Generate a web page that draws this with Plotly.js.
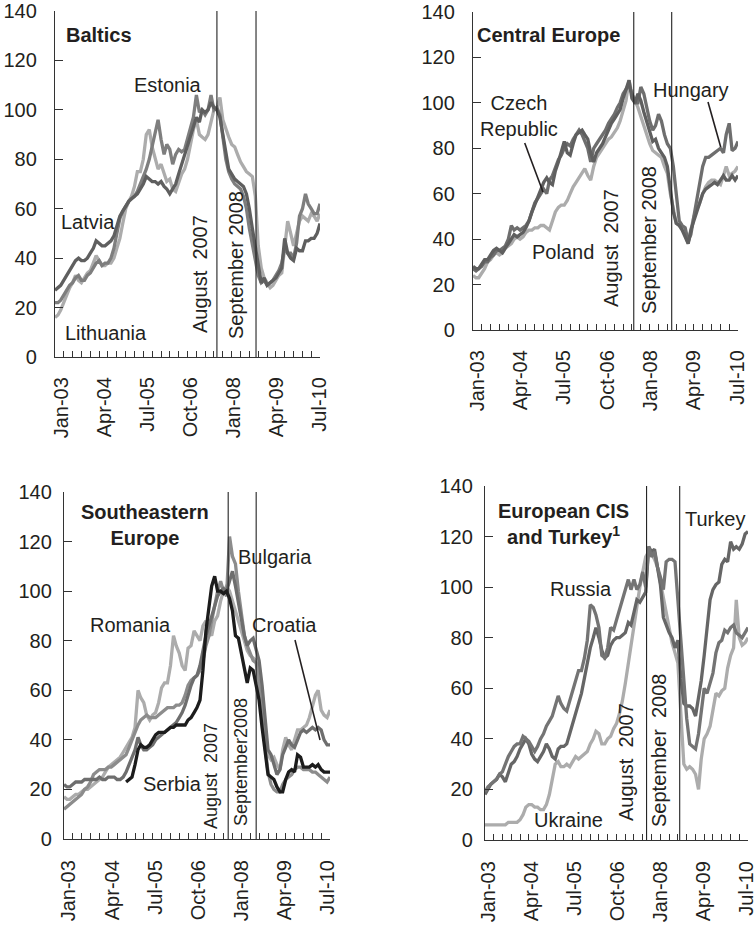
<!DOCTYPE html>
<html>
<head>
<meta charset="utf-8">
<script src="https://cdn.plot.ly/plotly-3.0.1.min.js"></script>
<style>
html,body{margin:0;padding:0;background:#fff;}
#chart{width:756px;height:925px;}
</style>
</head>
<body>
<div id="chart"></div>
<script>
// ---------- DATA (monthly, Jan-03 .. Jul-10, 91 points) ----------
var xTickLabels = ['Jan-03','Apr-04','Jul-05','Oct-06','Jan-08','Apr-09','Jul-10'];
var yTickValues = [0,20,40,60,80,100,120,140];

var baltLatvia = [27,28,29,31,33,35,37,39,40,39,
 39,40,42,44,47,46,45,45,46,47,
 49,53,57,59,61,63,64,65,66,68,
 70,73,72,71,71,70,71,69,68,66,
 68,70,74,78,82,85,89,94,97,95,
 100,99,100,103,101,100,97,90,82,76,
 74,72,71,70,69,66,60,52,44,36,
 30,32,29,30,31,32,34,36,48,42,
 40,39,44,43,43,47,47,48,48,50,54];
var baltEstonia = [22,22,23,25,27,29,30,32,33,31,
 31,33,34,36,38,39,37,38,38,40,
 44,50,56,59,61,63,64,65,67,70,
 73,76,80,85,90,96,88,82,86,84,
 78,82,84,83,84,88,92,97,106,99,
 100,98,100,106,100,101,98,89,80,75,
 72,70,69,68,65,60,52,45,38,33,
 30,31,29,30,31,33,35,38,44,42,
 42,40,46,57,60,66,62,60,58,58,62];
var baltLithuania = [16,17,19,22,25,28,30,33,31,30,
 32,34,35,38,41,39,37,37,38,38,
 40,44,48,54,60,63,65,69,75,75,
 80,90,92,85,80,76,78,74,71,72,
 68,67,70,74,76,80,86,92,96,90,
 89,88,90,95,100,101,105,96,92,89,
 86,85,82,79,77,75,74,73,65,45,
 36,32,30,28,29,31,33,34,45,55,
 50,45,50,55,57,56,55,58,57,55,58];

var ceCzech = [28,27,27,29,31,31,33,35,36,35,
 34,36,38,40,42,41,42,43,45,48,
 52,55,58,61,65,67,65,64,70,74,
 78,83,78,77,82,86,87,88,86,84,
 78,74,78,80,82,85,88,91,93,95,
 97,102,106,110,102,100,104,101,96,92,
 88,83,84,80,78,76,72,62,52,47,
 46,44,41,38,44,48,52,56,60,62,
 63,64,65,64,66,68,66,66,68,66,68];
var ceHungary = [27,26,27,28,30,30,32,33,35,35,
 36,37,40,46,44,45,44,45,46,48,
 52,56,58,60,62,60,66,68,72,75,
 77,80,82,81,84,86,88,86,83,80,
 74,80,82,84,86,88,91,93,95,98,
 100,104,106,108,104,100,100,107,104,98,
 92,88,90,95,92,86,82,80,72,60,
 48,46,45,39,42,50,58,65,72,76,
 76,77,78,79,80,78,86,91,79,80,83];
var cePoland = [24,23,23,25,27,30,31,33,34,33,
 34,36,37,38,40,41,40,41,43,44,
 44,45,45,46,46,45,44,48,52,54,
 55,55,57,60,63,65,67,69,71,68,
 66,72,76,78,80,82,84,85,87,89,
 92,96,101,110,104,101,98,94,90,85,
 82,79,78,77,76,72,69,60,54,47,
 46,45,42,38,44,50,53,56,60,63,
 65,66,66,65,64,68,72,68,69,70,72];

var seeRomania = [17,16,16,17,18,18,19,20,20,21,
 22,23,24,25,27,29,30,31,32,33,
 35,37,39,41,45,60,57,55,50,48,
 50,51,55,61,63,63,70,82,78,75,
 70,68,77,78,84,82,80,86,88,84,
 82,88,90,96,100,102,100,96,92,88,
 84,80,76,74,73,72,66,56,42,34,
 32,33,30,28,36,41,38,36,40,44,
 44,45,46,49,53,58,60,52,50,49,52];
var seeBulgaria = [12,13,14,15,16,17,18,20,21,23,
 26,27,28,28,28,29,29,30,31,32,
 33,34,37,40,43,46,48,49,50,49,
 49,49,50,51,52,53,53,53,54,54,
 55,58,62,64,65,66,68,72,78,82,
 88,95,100,104,100,98,122,114,111,100,
 90,82,78,75,72,71,62,48,36,27,
 22,20,19,19,22,24,25,26,28,29,
 29,28,28,28,27,27,26,25,24,23,25];
var seeCroatia = [22,21,21,22,23,23,23,24,24,24,
 24,24,25,24,24,25,25,25,24,24,
 25,27,30,33,36,41,38,36,36,37,
 38,40,41,42,43,44,45,46,47,49,
 51,54,58,62,65,66,70,76,82,86,
 90,94,98,100,101,100,104,108,102,95,
 88,82,78,80,81,76,72,62,48,36,
 34,30,26,28,34,37,40,38,37,40,
 43,44,43,44,45,44,45,44,40,38,38];
var seeSerbia = [null,null,null,null,null,null,null,null,null,null,
 null,null,null,null,null,null,null,null,null,null,
 null,23,24,25,30,36,38,37,37,38,
 40,42,43,43,43,44,45,45,46,46,
 46,46,48,49,51,53,56,68,84,95,
 102,106,100,100,99,100,97,92,82,81,
 75,70,63,69,68,62,56,45,35,26,
 25,24,21,19,19,24,27,28,27,34,
 33,29,29,29,30,29,30,28,27,27,27];

var cisRussia = [19,21,22,23,24,26,27,30,33,35,
 37,38,38,41,40,39,37,35,37,40,
 42,45,47,49,53,57,54,52,51,55,
 58,62,67,67,72,79,93,92,89,84,
 73,72,76,84,83,87,91,95,100,103,
 99,103,99,101,106,100,116,112,114,108,
 104,99,110,111,111,110,95,79,62,48,
 38,37,36,42,52,60,58,62,66,74,
 78,79,83,82,84,85,82,81,80,82,84];
var cisUkraine = [6,6,6,6,6,6,6,6,7,7,
 7,7,8,10,13,14,14,13,13,12,
 12,14,18,24,30,31,29,29,30,29,
 31,33,32,33,34,35,38,40,43,42,
 38,38,40,41,44,46,50,55,62,70,
 77,85,92,100,106,112,114,113,111,108,
 102,96,90,84,78,74,70,50,30,28,
 29,28,26,20,32,40,42,45,52,58,
 57,59,60,68,73,76,95,80,77,78,80];
var cisTurkey = [18,20,22,23,24,26,25,23,27,30,
 31,33,36,38,40,38,34,32,31,33,
 35,38,36,33,32,36,37,37,38,42,
 46,50,54,58,64,70,76,80,84,80,
 75,72,73,77,79,80,80,81,82,86,
 85,90,95,94,96,98,116,114,115,108,
 101,88,85,82,80,76,79,64,54,53,
 53,52,49,56,63,73,84,95,99,101,
 102,109,111,110,118,115,116,115,117,121,122];

// event line dates as placed in each panel (Aug 2007, Sep 2008)
var eventDates = [
  ['2007-08-01','2008-09-08'],
  ['2007-07-20','2008-08-15'],
  ['2007-08-18','2008-06-01'],
  ['2007-08-10','2008-07-20']
];

// ---------- BUILD ----------
var months = [];
for (var m = 0; m < 91; m++) {
  var yr = 2003 + Math.floor(m / 12), mo = (m % 12) + 1;
  months.push(yr + '-' + (mo < 10 ? '0' : '') + mo + '-01');
}
var qTickVals = [];
for (var q = 0; q <= 30; q++) qTickVals.push(months[q * 3]);

function monthToDate(mf) {
  var mi = Math.floor(mf), fr = mf - mi;
  var d = new Date(Date.UTC(2003, mi, 1));
  var d2 = new Date(Date.UTC(2003, mi + 1, 1));
  var t = new Date(d.getTime() + fr * (d2.getTime() - d.getTime()));
  return t.toISOString().slice(0, 19).replace('T', ' ');
}
// label placement (first/last label month offsets) per panel
var labelSpan = [[2.3, 89.7], [1.4, 89.7], [1.7, 89.2], [1.3, 89.5]];

var W = 756, H = 925;
function px(x) { return x / W; }
function py(y) { return 1 - y / H; }

var TXT = '#231f20';
var FONT = 'Liberation Sans, Arial, Helvetica, sans-serif';
var DARK = '#5f5f5f', MID = '#7e7e7e', LIGHT = '#acacac', BLACK = '#1c1c1c';

var traces = [];
function addLine(axisIdx, y, color) {
  traces.push({
    x: months, y: y, type: 'scatter', mode: 'lines',
    xaxis: 'x' + (axisIdx === 1 ? '' : axisIdx),
    yaxis: 'y' + (axisIdx === 1 ? '' : axisIdx),
    line: {color: color, width: 3.3}, connectgaps: false, hoverinfo: 'skip'
  });
}
addLine(1, baltLithuania, LIGHT);
addLine(1, baltEstonia, MID);
addLine(1, baltLatvia, DARK);
addLine(2, cePoland, LIGHT);
addLine(2, ceHungary, '#6e6e6e');
addLine(2, ceCzech, DARK);
addLine(3, seeRomania, LIGHT);
addLine(3, seeBulgaria, '#8c8c8c');
addLine(3, seeCroatia, '#6e6e6e');
addLine(3, seeSerbia, BLACK);
addLine(4, cisUkraine, LIGHT);
addLine(4, cisTurkey, '#666666');
addLine(4, cisRussia, '#747474');

// panel plot areas in pixels: [left, right, top, bottom]
var panels = [
  [55, 320, 11, 357],
  [473, 738, 12, 330],
  [64, 330, 492, 839],
  [485, 748, 486, 840]
];
var ylabStand = [13, 13, 7, 7];
var xlabStand = [11, 11, 12, 12];

var layout = {
  width: W, height: H,
  margin: {l: 0, r: 0, t: 0, b: 0},
  paper_bgcolor: '#fff', plot_bgcolor: '#fff',
  showlegend: false,
  font: {family: FONT, size: 20, color: TXT},
  shapes: [], annotations: []
};

panels.forEach(function (p, i) {
  var n = i + 1, sfx = (n === 1 ? '' : n);
  var s = labelSpan[i], labVals = [];
  for (var k = 0; k < xTickLabels.length; k++) {
    labVals.push(monthToDate(s[0] + k * (s[1] - s[0]) / (xTickLabels.length - 1)));
  }
  layout['xaxis' + sfx] = {
    domain: [px(p[0]), px(p[1])],
    anchor: 'y' + sfx,
    type: 'date',
    range: [months[0], months[90]],
    tickmode: 'array', tickvals: labVals, ticktext: xTickLabels,
    ticks: 'inside', ticklen: 0, tickwidth: 0, tickcolor: 'rgba(0,0,0,0)',
    minor: {tickmode: 'array', tickvals: qTickVals, ticks: 'inside', ticklen: 6,
            tickwidth: 1, tickcolor: '#333', showgrid: false},
    tickangle: -90, ticklabelstandoff: xlabStand[i], ticklabeloverflow: 'allow',
    showline: true, linecolor: '#333', linewidth: 1.2,
    showgrid: false, zeroline: false, fixedrange: true,
    tickfont: {family: FONT, size: 20, color: TXT}
  };
  layout['yaxis' + sfx] = {
    domain: [py(p[3]), py(p[2])],
    anchor: 'x' + sfx,
    range: [0, 140],
    tickmode: 'array', tickvals: yTickValues,
    ticks: 'inside', ticklen: 8, tickwidth: 1, tickcolor: '#333',
    ticklabelstandoff: ylabStand[i],
    showline: true, linecolor: '#333', linewidth: 1.2,
    showgrid: false, zeroline: false, fixedrange: true,
    tickfont: {family: FONT, size: 20, color: TXT}
  };
  eventDates[i].forEach(function (d) {
    layout.shapes.push({
      type: 'line', xref: 'x' + sfx, yref: 'y' + sfx + ' domain',
      x0: d, x1: d, y0: 0, y1: 1,
      line: {color: '#222', width: 1.1}
    });
  });
});

function ann(text, x, y, o) {
  o = o || {};
  layout.annotations.push({
    text: text, xref: 'paper', yref: 'paper', x: px(x), y: py(y),
    xanchor: o.xa || 'center', yanchor: o.ya || 'middle',
    showarrow: false, textangle: o.angle || 0,
    align: o.align || 'center',
    font: {family: FONT, size: o.size || 20, color: TXT}
  });
}
function arrowLine(x0, y0, x1, y1) {
  layout.shapes.push({
    type: 'line', xref: 'paper', yref: 'paper',
    x0: px(x0), y0: py(y0), x1: px(x1), y1: py(y1),
    line: {color: '#231f20', width: 1.6}
  });
}
var SP2 = '\u00a0\u00a0';

// panel titles
ann('<b>Baltics</b>', 64, 35, {xa: 'left'});
ann('<b>Central Europe</b>', 475, 35, {xa: 'left'});
ann('<b>Southeastern</b><br><b>Europe</b>', 144.5, 525);
ann('<b>European CIS</b><br><b>and Turkey<sup>1</sup></b>', 563, 524);

// series labels
ann('Estonia', 168, 85);
ann('Latvia', 87.5, 222);
ann('Lithuania', 105.5, 333);
ann('Czech<br>Republic', 519, 116);
arrowLine(524.7, 143, 543, 192);
ann('Hungary', 691, 90);
arrowLine(708, 102, 720.7, 147);
ann('Poland', 563, 252);
ann('Romania', 130, 625);
ann('Bulgaria', 275, 557);
ann('Croatia', 284, 625);
arrowLine(295, 640, 320, 740);
ann('Serbia', 172, 784);
ann('Turkey', 714.5, 519);
ann('Russia', 580.5, 589);
ann('Ukraine', 568, 820);

// event labels
ann('August' + SP2 + '2007', 213, 274, {xa: 'right', angle: -90});
ann('September 2008', 249, 265, {xa: 'right', angle: -90});
ann('August' + SP2 + '2007', 624, 248, {xa: 'right', angle: -90});
ann('September 2008', 662, 240, {xa: 'right', angle: -90});
ann('August' + SP2 + '2007', 223, 776, {xa: 'right', angle: -90, size: 18});
ann('September2008', 253, 762, {xa: 'right', angle: -90, size: 18});
ann('August' + SP2 + '2007', 639, 762, {xa: 'right', angle: -90});
ann('September' + SP2 + '2008', 672, 751, {xa: 'right', angle: -90});

Plotly.newPlot('chart', traces, layout, {staticPlot: true, displayModeBar: false});
</script>
</body>
</html>
